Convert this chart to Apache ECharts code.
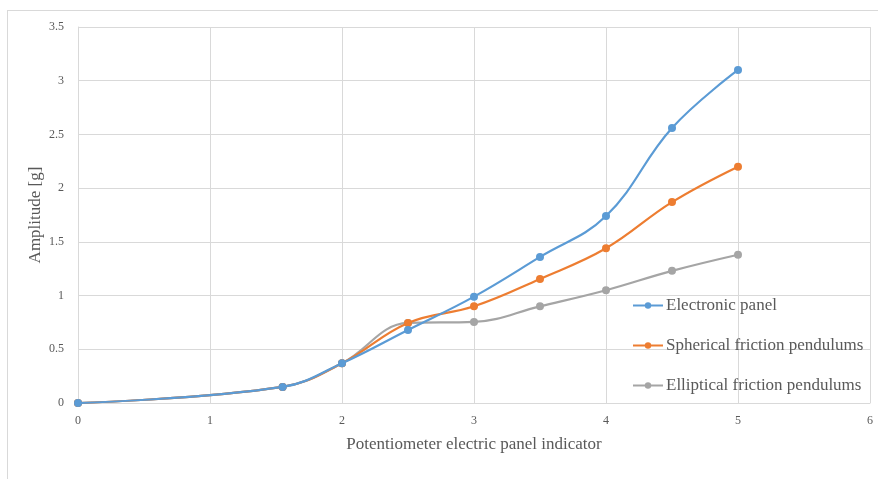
<!DOCTYPE html>
<html>
<head>
<meta charset="utf-8">
<script src="https://cdn.jsdelivr.net/npm/echarts@6/dist/echarts.min.js"></script>
<style>
  html, body { margin: 0; padding: 0; background: #fff; }
  #frame { position: absolute; left: 7px; top: 10px; width: 880px; height: 470px; border: 1px solid #d9d9d9; box-sizing: border-box; }
  #chart { position: absolute; left: 0; top: 0; width: 878px; height: 479px; }
</style>
</head>
<body>
<div id="frame"></div>
<div id="chart"></div>
<script>
// Panel indicator settings (x) and measured amplitudes in g (y)
const xElectronic = [0, 1.55, 2, 2.5, 3, 3.5, 4, 4.5, 5];
const electronicPanel = [0, 0.15, 0.37, 0.68, 0.99, 1.36, 1.74, 2.56, 3.10];
const sphericalPendulums = [0, 0.15, 0.37, 0.745, 0.90, 1.155, 1.44, 1.87, 2.20];
const ellipticalPendulums = [0, 0.15, 0.37, 0.745, 0.755, 0.90, 1.05, 1.23, 1.38];
const seriesNames = ['Electronic panel', 'Spherical friction pendulums', 'Elliptical friction pendulums'];
const seriesColors = ['#5B9BD5', '#ED7D31', '#A5A5A5'];

const pair = (ys) => xElectronic.map((x, i) => [x, ys[i]]);
const values = [electronicPanel, sphericalPendulums, ellipticalPendulums];

const chart = echarts.init(document.getElementById('chart'), null, { renderer: 'canvas' });
const font = '"Liberation Serif", "Times New Roman", serif';

chart.setOption({
  animation: false,
  textStyle: { fontFamily: font },
  grid: { left: 78, right: 8, top: 27, bottom: 76 },
  legend: {
    orient: 'vertical',
    left: 627,
    top: 292,
    itemGap: 23,
    itemWidth: 30,
    itemHeight: 8,
    textStyle: { color: '#595959', fontSize: 17, fontFamily: font, padding: [0, 0, 0, -2] },
    data: seriesNames
  },
  xAxis: {
    type: 'value',
    min: 0, max: 6, interval: 1,
    name: 'Potentiometer electric panel indicator',
    nameLocation: 'middle',
    nameGap: 33,
    nameMoveOverlap: false,
    nameTextStyle: { color: '#595959', fontSize: 17, fontFamily: font },
    axisLine: { lineStyle: { color: '#d9d9d9' } },
    axisTick: { show: false },
    axisLabel: { color: '#595959', fontSize: 12, margin: 12, fontFamily: font },
    splitLine: { show: true, lineStyle: { color: '#d9d9d9' } }
  },
  yAxis: {
    type: 'value',
    min: 0, max: 3.5, interval: 0.5,
    name: 'Amplitude [g]',
    nameLocation: 'middle',
    nameGap: 34,
    nameMoveOverlap: false,
    nameTextStyle: { color: '#595959', fontSize: 17, fontFamily: font },
    axisLine: { show: true, lineStyle: { color: '#d9d9d9' } },
    axisTick: { show: false },
    axisLabel: { color: '#595959', fontSize: 12, margin: 14, fontFamily: font },
    splitLine: { show: true, lineStyle: { color: '#d9d9d9' } }
  },
  series: values.map((ys, i) => ({
    name: seriesNames[i],
    type: 'line',
    smooth: 0.4,
    data: pair(ys),
    symbol: 'circle',
    symbolSize: 8,
    z: 3 - i,
    itemStyle: { color: seriesColors[i] },
    lineStyle: { color: seriesColors[i], width: 2.2 }
  }))
});
</script>
</body>
</html>
